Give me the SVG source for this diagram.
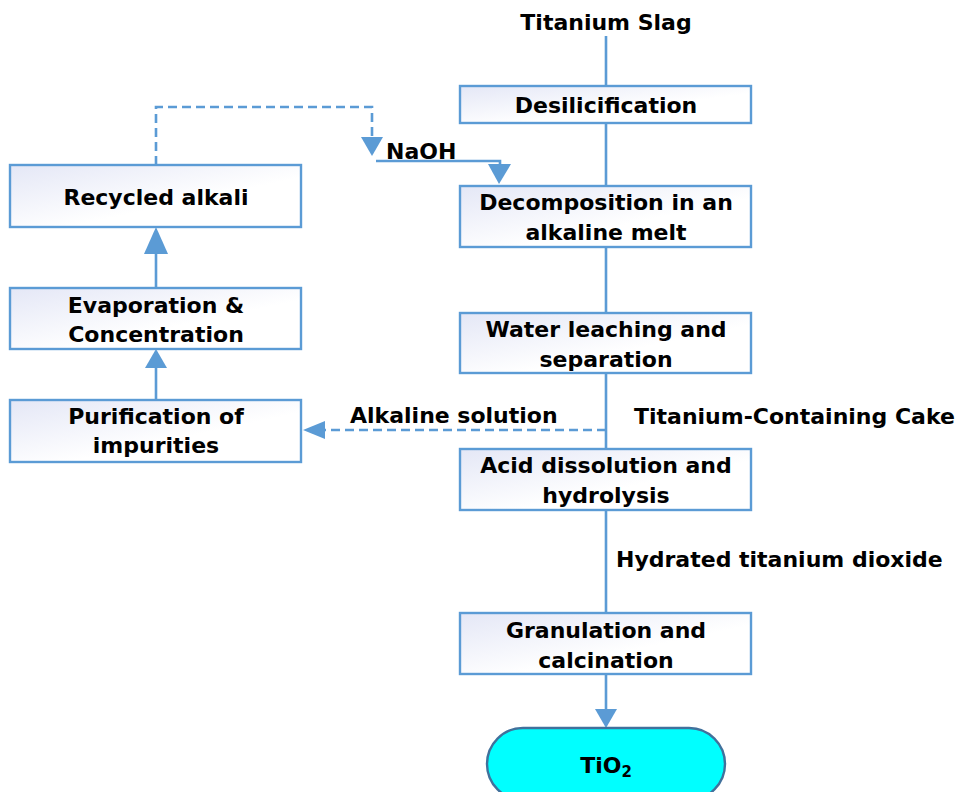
<svg xmlns="http://www.w3.org/2000/svg" width="958" height="792" viewBox="0 0 958 792">
<defs>
<linearGradient id="boxfill" x1="0" y1="0" x2="1" y2="1">
<stop offset="0" stop-color="#E4E7F6"/>
<stop offset="0.6" stop-color="#FFFFFF"/>
</linearGradient>
</defs>
<style>
.box{fill:url(#boxfill);stroke:#5B9BD5;stroke-width:2.4}
.t{font-family:"DejaVu Sans",Verdana,sans-serif;font-weight:bold;font-size:22px;fill:#000}
.c{text-anchor:middle}
.ln{stroke:#5B9BD5;stroke-width:2.6;fill:none}
.dash{stroke-dasharray:9,5}
.ah{fill:#5B9BD5;stroke:none}
</style>
<rect width="958" height="792" fill="#fff"/>
<g id="connectors">
<path class="ln" d="M606,36V86M606,123V186M606,247V313M606,373V449M606,510V613M606,674V710"/>
<polygon class="ah" points="595,709 617,709 606,728"/>
<path class="ln" d="M156,288V252"/>
<polygon class="ah" points="144,254 168,254 156,227"/>
<path class="ln" d="M156,400V366"/>
<polygon class="ah" points="145,368 167,368 156,349"/>
<path class="ln dash" d="M156,165V107H372V138"/>
<polygon class="ah" points="361,137 383,137 372,156"/>
<path class="ln" d="M376,161H500V166"/>
<polygon class="ah" points="488,164 511,164 499,184"/>
<path class="ln dash" d="M606,430H324"/>
<polygon class="ah" points="325,421 325,439 303,430"/>
</g>
<g id="titanium-slag"><text class="t c" x="606" y="30">Titanium Slag</text></g>
<g id="desilicification"><rect class="box" x="460" y="86" width="291" height="37"/><text class="t c" x="606" y="113">Desilicification</text></g>
<g id="decomposition"><rect class="box" x="460" y="186" width="291" height="61"/><text class="t c" x="606" y="210">Decomposition in an</text><text class="t c" x="606" y="240">alkaline melt</text></g>
<g id="water-leaching"><rect class="box" x="460" y="313" width="291" height="60"/><text class="t c" x="606" y="337">Water leaching and</text><text class="t c" x="606" y="367">separation</text></g>
<g id="acid-dissolution"><rect class="box" x="460" y="449" width="291" height="61"/><text class="t c" x="606" y="473">Acid dissolution and</text><text class="t c" x="606" y="503">hydrolysis</text></g>
<g id="granulation"><rect class="box" x="460" y="613" width="291" height="61"/><text class="t c" x="606" y="638">Granulation and</text><text class="t c" x="606" y="668">calcination</text></g>
<g id="tio2"><rect x="487" y="728" width="238" height="72" rx="36" ry="36" fill="#00FFFF" stroke="#41719C" stroke-width="2.4"/><text class="t c" x="606" y="773">TiO<tspan font-size="15" dy="4">2</tspan></text></g>
<g id="recycled-alkali"><rect class="box" x="10" y="165" width="291" height="62"/><text class="t c" x="156" y="205">Recycled alkali</text></g>
<g id="evaporation"><rect class="box" x="10" y="288" width="291" height="61"/><text class="t c" x="156" y="313">Evaporation &amp;</text><text class="t c" x="156" y="342">Concentration</text></g>
<g id="purification"><rect class="box" x="10" y="400" width="291" height="62"/><text class="t c" x="156" y="424">Purification of</text><text class="t c" x="156" y="453">impurities</text></g>
<g id="labels">
<text class="t" x="386" y="159">NaOH</text>
<text class="t" x="350" y="423">Alkaline solution</text>
<text class="t" x="634" y="424">Titanium-Containing Cake</text>
<text class="t" x="616" y="567">Hydrated titanium dioxide</text>
</g>
</svg>
